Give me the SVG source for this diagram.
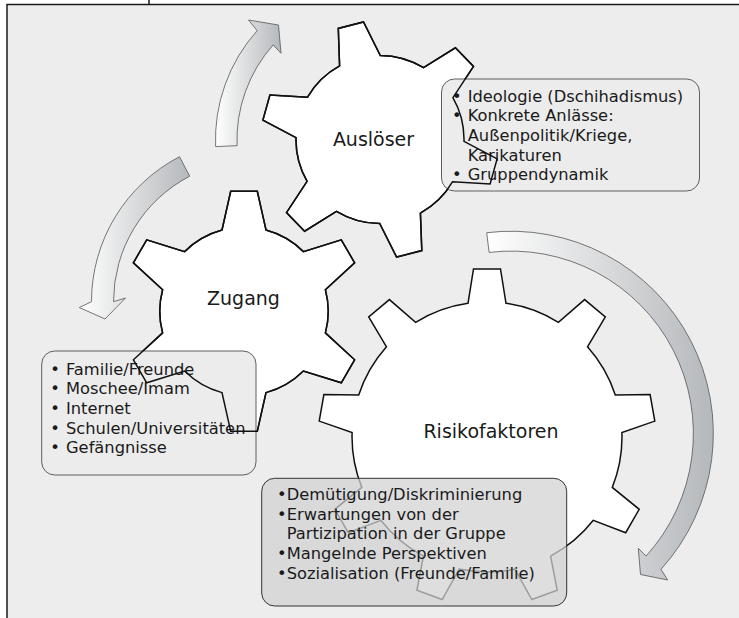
<svg xmlns="http://www.w3.org/2000/svg" width="739" height="618" viewBox="0 0 739 618">
<style>
.frame{fill:#ededed;stroke:#1a1a1a;stroke-width:1.5}
.gear{fill:#fff;stroke:#111;stroke-width:1.5}
.outline{fill:none;stroke:#111;stroke-width:1.5}
.box{fill:#ececec;stroke:#5f5f5f;stroke-width:1}
.box-dark{fill:#d2d2d3;fill-opacity:0.73;stroke:#333;stroke-width:1}
.arrow{fill:url(#ag);stroke:#555;stroke-width:0.8}
.label{font-family:"DejaVu Sans",sans-serif;font-size:19px;fill:#1a1a1a;text-anchor:middle}
.item{font-family:"DejaVu Sans",sans-serif;font-size:16.3px;fill:#1a1a1a}
</style>
<defs>
<linearGradient id="ag" x1="0" y1="0" x2="1" y2="0">
<stop offset="0" stop-color="#ffffff"/>
<stop offset="1" stop-color="#b5b8bb"/>
</linearGradient>
<path id="gA" d="M339.6,65.9 L338.3,28.4 L363.5,22 L380.3,55.5 A84,84 0 0 1 423.5,67.7 L455.4,47.8 L473.5,66.4 L452.9,97.7 A84,84 0 0 1 464,141.3 L497.1,158.9 L490.1,183.9 L452.6,181.7 A84,84 0 0 1 420.4,213.1 L421.8,250.6 L396.6,257.1 L379.7,223.5 A84,84 0 0 1 336.5,211.3 L304.6,231.2 L286.5,212.6 L307.1,181.3 A84,84 0 0 1 296,137.7 L262.9,120.1 L269.9,95.1 L307.4,97.3 A84,84 0 0 1 339.6,65.9 Z"/>
<path id="gZ" d="M222,230 L230.7,191.3 L257.3,191.3 L266,230 A84.2,84.2 0 0 1 303.4,251.6 L341.3,239.8 L354.6,262.8 L325.4,289.7 A84.2,84.2 0 0 1 325.4,332.9 L354.6,359.8 L341.3,382.8 L303.4,371 A84.2,84.2 0 0 1 266,392.6 L257.3,431.3 L230.7,431.3 L222,392.6 A84.2,84.2 0 0 1 184.6,371 L146.7,382.8 L133.4,359.8 L162.6,332.9 A84.2,84.2 0 0 1 162.6,289.7 L133.4,262.8 L146.7,239.8 L184.6,251.6 A84.2,84.2 0 0 1 222,230 Z"/>
<path id="gR" d="M468,303.3 L473.5,269 L500.5,269 L506,303.3 A135,135 0 0 1 558.4,322.4 L584.6,299.6 L605.3,317 L587.5,346.8 A135,135 0 0 1 615.3,395.1 L650.1,394.6 L654.8,421.1 L621.9,432.5 A135,135 0 0 1 612.3,487.4 L639.2,509.3 L625.7,532.7 L593.3,520.3 A135,135 0 0 1 550.6,556.1 L557.2,590.3 L531.8,599.5 L514.9,569.1 A135,135 0 0 1 459.1,569.1 L442.2,599.5 L416.9,590.3 L423.4,556.1 A135,135 0 0 1 380.8,520.3 L348.3,532.7 L334.8,509.3 L361.8,487.4 A135,135 0 0 1 352.1,432.5 L319.2,421.1 L323.9,394.6 L358.7,395.1 A135,135 0 0 1 386.5,346.8 L368.7,317 L389.4,299.6 L415.6,322.4 A135,135 0 0 1 468,303.3 Z"/>
</defs>
<g id="frame">
<line x1="149" y1="0" x2="149" y2="4.5" stroke="#1a1a1a" stroke-width="1.5"/>
<rect class="frame" x="7" y="4.5" width="740" height="620"/>
</g>
<g id="connectors">
<path id="arrow-zugang-ausloeser" class="arrow" d="M215.6,146.6 A164.5,164.5 0 0 1 257.2,30.6 L248.5,20 L278.5,25 L281,53.3 L273.2,44.9 A143,143 0 0 0 237.1,145.7 Z"/>
<path id="arrow-to-zugang" class="arrow" d="M179.5,156.7 A163.5,163.5 0 0 0 91.5,301.7 L79.3,307.5 L105,319 L125.5,298 L113.5,301.7 A141.5,141.5 0 0 1 189.7,176.2 Z"/>
<path id="arrow-risikofaktoren" class="arrow" d="M486.7,232.7 A202.3,202.3 0 0 1 661,569.3 L667.7,580 L640.5,574.5 L638.3,548.3 L646.1,556 A182.4,182.4 0 0 0 489.1,252.4 Z"/>
</g>
<g id="node-ausloeser">
<use href="#gA" class="gear"/>
<text class="label" x="373.5" y="146">Auslöser</text>
<rect class="box" x="441.5" y="79" width="258" height="112" rx="13"/>
<text class="item"><tspan x="452" y="101.5">•</tspan><tspan x="467.7" y="101.5">Ideologie (Dschihadismus)</tspan><tspan x="452" y="121.2">•</tspan><tspan x="467.7" y="121.2">Konkrete Anlässe:</tspan><tspan x="467.7" y="140.9">Außenpolitik/Kriege,</tspan><tspan x="467.7" y="160.6">Karikaturen</tspan><tspan x="452" y="180.3">•</tspan><tspan x="467.7" y="180.3">Gruppendynamik</tspan></text>
<use href="#gA" class="outline"/>
</g>
<g id="node-zugang">
<use href="#gZ" class="gear"/>
<text class="label" x="243.5" y="305">Zugang</text>
<rect class="box" x="41.7" y="351" width="214.3" height="124" rx="13"/>
<text class="item"><tspan x="50.2" y="374.5">•</tspan><tspan x="66" y="374.5">Familie/Freunde</tspan><tspan x="50.2" y="394.2">•</tspan><tspan x="66" y="394.2">Moschee/Imam</tspan><tspan x="50.2" y="413.9">•</tspan><tspan x="66" y="413.9">Internet</tspan><tspan x="50.2" y="433.6">•</tspan><tspan x="66" y="433.6">Schulen/Universitäten</tspan><tspan x="50.2" y="453.3">•</tspan><tspan x="66" y="453.3">Gefängnisse</tspan></text>
<use href="#gZ" class="outline"/>
</g>
<g id="node-risikofaktoren">
<use href="#gR" class="gear"/>
<text class="label" x="491" y="438">Risikofaktoren</text>
<rect class="box-dark" x="261.7" y="478.3" width="305" height="127.7" rx="13"/>
<text class="item"><tspan x="276.9" y="500">•</tspan><tspan x="286.7" y="500">Demütigung/Diskriminierung</tspan><tspan x="276.9" y="519.7">•</tspan><tspan x="286.7" y="519.7">Erwartungen von der</tspan><tspan x="286.7" y="539.4">Partizipation in der Gruppe</tspan><tspan x="276.9" y="559.1">•</tspan><tspan x="286.7" y="559.1">Mangelnde Perspektiven</tspan><tspan x="276.9" y="578.8">•</tspan><tspan x="286.7" y="578.8">Sozialisation (Freunde/Familie)</tspan></text>
</g>
</svg>
